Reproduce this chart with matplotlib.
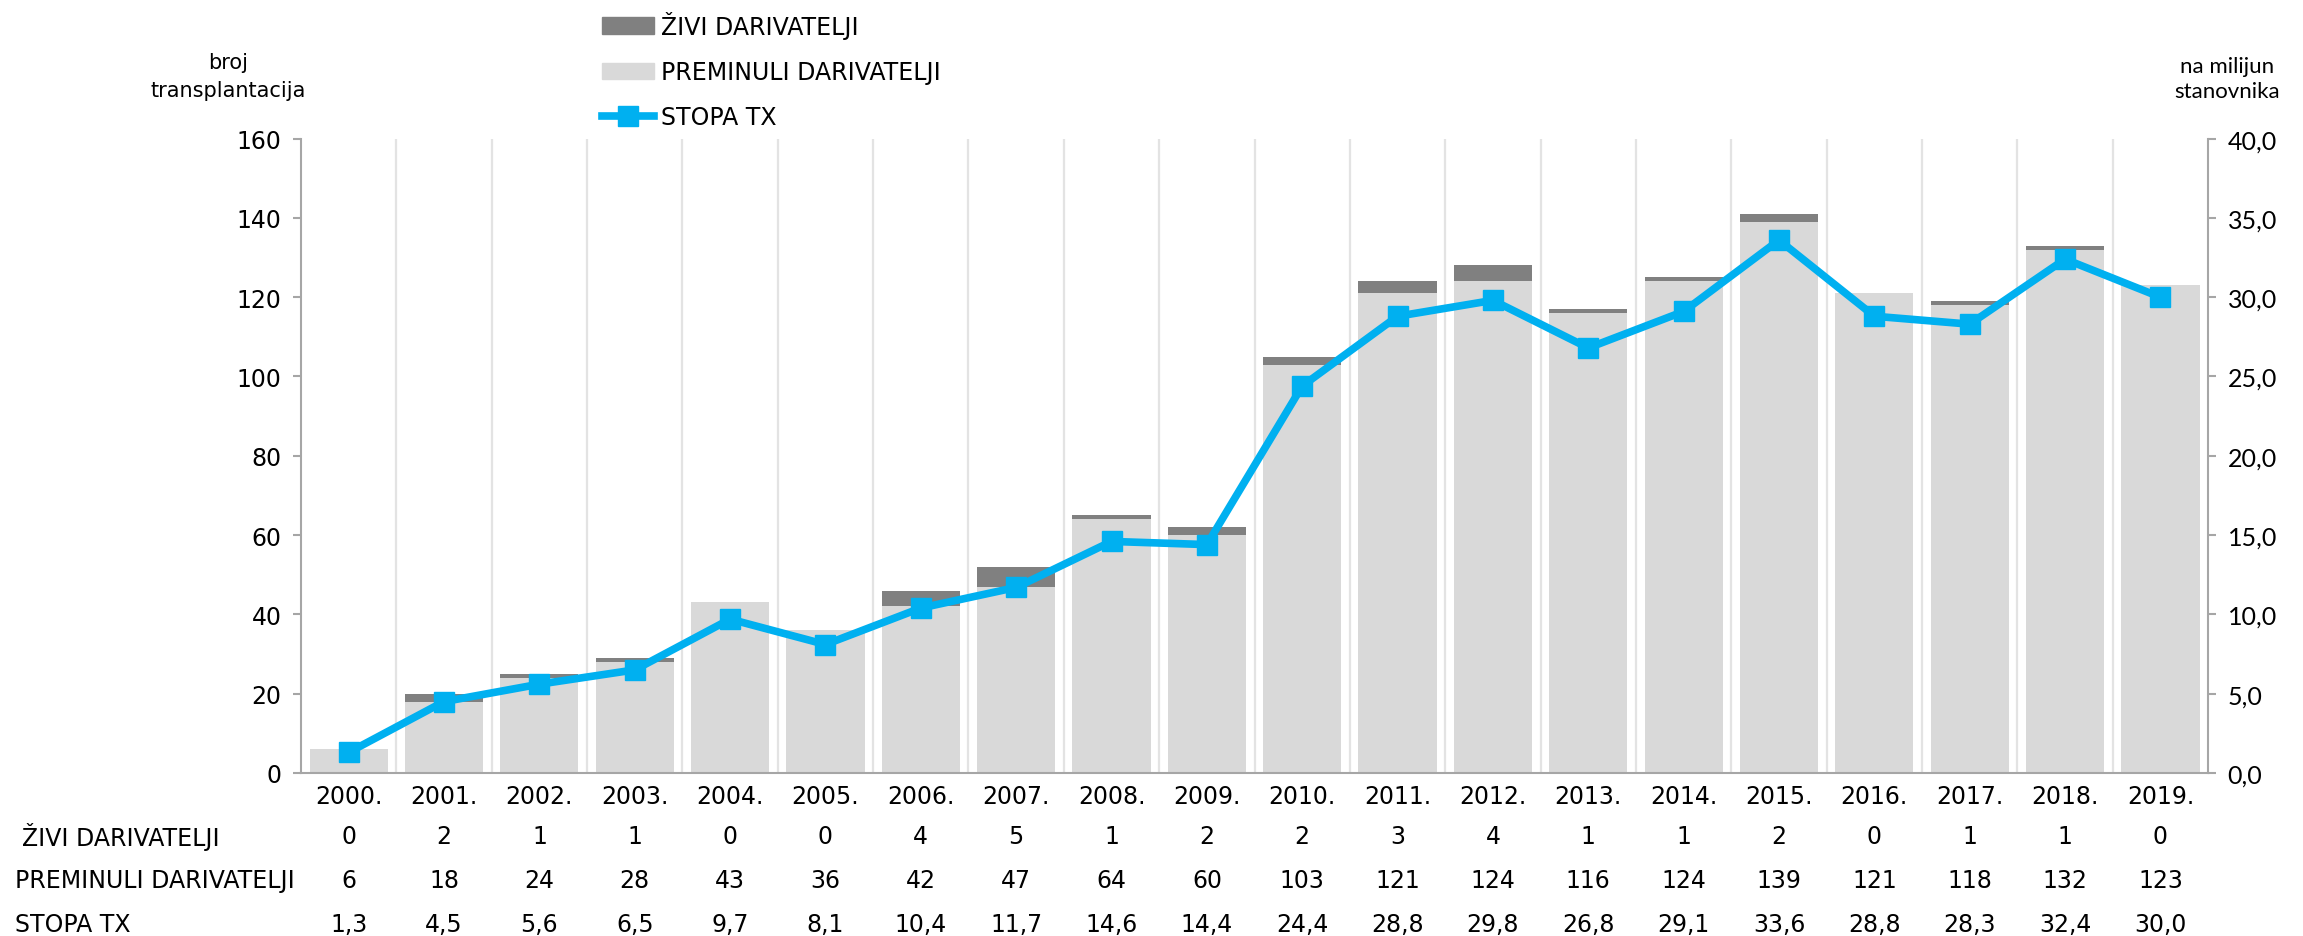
import matplotlib
matplotlib.use("Agg")
import matplotlib.pyplot as plt
from matplotlib.patches import Patch
from matplotlib.lines import Line2D
import numpy as np

# data
years = ["2000.", "2001.", "2002.", "2003.", "2004.", "2005.", "2006.", "2007.", "2008.", "2009.",
         "2010.", "2011.", "2012.", "2013.", "2014.", "2015.", "2016.", "2017.", "2018.", "2019."]
zivi = [0, 2, 1, 1, 0, 0, 4, 5, 1, 2, 2, 3, 4, 1, 1, 2, 0, 1, 1, 0]
preminuli = [6, 18, 24, 28, 43, 36, 42, 47, 64, 60, 103, 121, 124, 116, 124, 139, 121, 118, 132, 123]
stopa = [1.3, 4.5, 5.6, 6.5, 9.7, 8.1, 10.4, 11.7, 14.6, 14.4, 24.4, 28.8, 29.8, 26.8, 29.1, 33.6, 28.8, 28.3, 32.4, 30.0]

NARROW = ["Liberation Sans Narrow", "DejaVu Sans Condensed", "DejaVu Sans"]
NORMAL = ["Lato", "DejaVu Sans"]
plt.rcParams['font.family'] = NARROW

C_LIGHT = "#D9D9D9"
C_DARK = "#808080"
C_LINE = "#00B0F0"
C_AXIS = "#A6A6A6"
FS = 17

fig = plt.figure(figsize=(23.03, 9.37), dpi=100)
ax = fig.add_axes([0.1307, 0.174, 0.8281, 0.677])
x = np.arange(len(years))

# vertical separators between categories
for b in x[:-1] + 0.5:
    ax.axvline(b, color="#E3E3E3", lw=1.6, zorder=0)

ax.bar(x, preminuli, width=0.82, color=C_LIGHT, zorder=2)
ax.bar(x, zivi, width=0.82, bottom=preminuli, color=C_DARK, zorder=2)

ax.set_xlim(-0.5, len(years) - 0.5)
ax.set_ylim(0, 160)
ax.set_yticks(np.arange(0, 161, 20))
ax.set_xticks(x)
ax.set_xticklabels(years, fontsize=FS)
ax.tick_params(axis='x', length=0, pad=8)
ax.tick_params(axis='y', labelsize=FS, color=C_AXIS, length=6, width=1.5, pad=8)
for s in ["top", "right"]:
    ax.spines[s].set_visible(False)
for s in ["left", "bottom"]:
    ax.spines[s].set_color(C_AXIS)
    ax.spines[s].set_linewidth(1.5)

ax2 = ax.twinx()
ax2.plot(x, stopa, color=C_LINE, lw=5.5, marker='s', markersize=15, zorder=5)
ax2.set_ylim(0, 40)
ax2.set_yticks(np.arange(0, 41, 5))
ax2.set_yticklabels([f"{v:.1f}".replace(".", ",") for v in np.arange(0, 41, 5)],
                    fontsize=18, family=NORMAL)
ax2.tick_params(axis='y', color=C_AXIS, length=6, width=1.5, pad=8)
for s in ["top", "left", "bottom"]:
    ax2.spines[s].set_visible(False)
ax2.spines["right"].set_color(C_AXIS)
ax2.spines["right"].set_linewidth(1.5)

# data table under the chart
tr = ax.get_xaxis_transform()
rows = [("ŽIVI DARIVATELJI", [str(v) for v in zivi], -0.099, 0.0095),
        ("PREMINULI DARIVATELJI", [str(v) for v in preminuli], -0.169, 0.0065),
        ("STOPA TX", [f"{v:.1f}".replace(".", ",") for v in stopa], -0.238, 0.0065)]
for name, vals, yy, xl in rows:
    fig.text(xl, ax.get_position().y0 + yy * ax.get_position().height, name,
             fontsize=FS, ha='left', va='center')
    for i, v in enumerate(vals):
        ax.text(i, yy, v, transform=tr, fontsize=FS, ha='center', va='center', clip_on=False)

# axis titles
fig.text(0.099, 0.918, "broj\ntransplantacija", fontsize=15, ha='center', va='center',
         linespacing=1.5)
fig.text(0.967, 0.915, "na milijun\nstanovnika", fontsize=16, ha='center', va='center',
         linespacing=1.3, family=NORMAL)

handles = [Patch(color=C_DARK), Patch(color=C_LIGHT),
           Line2D([0], [0], color=C_LINE, lw=5.5, marker='s', markersize=15)]
fig.legend(handles, ["ŽIVI DARIVATELJI", "PREMINULI DARIVATELJI", "STOPA TX"],
           loc='upper left', bbox_to_anchor=(0.252, 1.01), frameon=False, fontsize=FS,
           handlelength=2.2, handletextpad=0.3, labelspacing=0.9)

fig.savefig("out.png", dpi=100)
